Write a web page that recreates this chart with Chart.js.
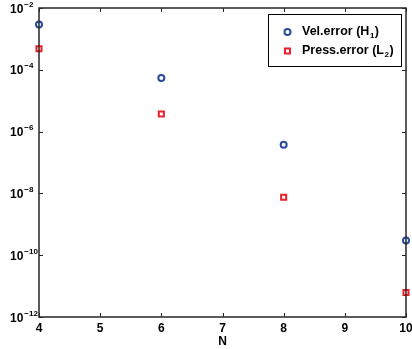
<!DOCTYPE html>
<html>
<head>
<meta charset="utf-8">
<script src="https://cdn.jsdelivr.net/npm/chart.js@4/dist/chart.umd.min.js"></script>
<style>
  html, body { margin: 0; padding: 0; background: #ffffff; }
  #c { display: block; }
</style>
</head>
<body>
<canvas id="c" width="412" height="349"></canvas>
<script>
// ---- data ----
const nValues = [4, 6, 8, 10];
const velError = [2.9e-3, 5.4e-5, 3.75e-7, 3.0e-10];
const pressError = [4.8e-4, 3.7e-6, 7.5e-9, 6.2e-12];
const xTickValues = [4, 5, 6, 7, 8, 9, 10];
const yTickExponents = [-2, -4, -6, -8, -10, -12];
const seriesLabels = ['Vel.error (H', 'Press.error (L'];
const seriesSubscripts = ['1', '2'];
const xAxisTitle = 'N';

const FONT = '"Liberation Sans", Arial, Helvetica, sans-serif';
const AXIS_COLOR = '#262626';
const BLUE = '#2a4aa0';
const RED = '#e8202a';

function toPoints(xs, ys) { return xs.map((x, i) => ({ x: x, y: ys[i] })); }

const matlabAxes = {
  id: 'matlabAxes',
  afterDraw(chart) {
    const ctx = chart.ctx;
    const a = chart.chartArea;
    const xs = chart.scales.x, ys = chart.scales.y;
    ctx.save();
    // box
    ctx.strokeStyle = AXIS_COLOR;
    ctx.lineWidth = 1.5;
    ctx.strokeRect(a.left, a.top, a.right - a.left, a.bottom - a.top);
    // ticks
    ctx.lineWidth = 1;
    const tl = 4;
    ctx.beginPath();
    xTickValues.forEach(v => {
      const px = Math.round(xs.getPixelForValue(v)) + 0.5;
      ctx.moveTo(px, a.bottom); ctx.lineTo(px, a.bottom - tl);
      ctx.moveTo(px, a.top); ctx.lineTo(px, a.top + tl);
    });
    yTickExponents.forEach(e => {
      const py = Math.round(ys.getPixelForValue(Math.pow(10, e))) + 0.5;
      ctx.moveTo(a.left, py); ctx.lineTo(a.left + tl, py);
      ctx.moveTo(a.right, py); ctx.lineTo(a.right - tl, py);
    });
    ctx.stroke();
    // x tick labels
    ctx.fillStyle = '#000';
    ctx.font = 'bold 12px ' + FONT;
    ctx.textAlign = 'center';
    ctx.textBaseline = 'alphabetic';
    xTickValues.forEach(v => {
      ctx.fillText(String(v), xs.getPixelForValue(v), 332);
    });
    // x title
    ctx.fillText(xAxisTitle, (a.left + a.right) / 2, 345);
    // y tick labels 10^e
    yTickExponents.forEach(e => {
      const py = ys.getPixelForValue(Math.pow(10, e));
      const base = Math.max(py + 4.5, 13);
      ctx.font = 'bold 12px ' + FONT;
      ctx.textAlign = 'left';
      ctx.fillText('10', 10, base);
      const w = ctx.measureText('10').width;
      ctx.font = 'bold 8px ' + FONT;
      ctx.fillText('\u2212' + String(-e), 10 + w + 1, base - 6);
    });
    // legend
    const lx = 268, ly = 14, lw = 133, lh = 52;
    ctx.fillStyle = '#fff';
    ctx.fillRect(lx, ly, lw, lh);
    ctx.strokeStyle = '#000';
    ctx.lineWidth = 1;
    ctx.strokeRect(lx + 0.5, ly + 0.5, lw, lh);
    const rows = [32, 51];
    chart.data.datasets.forEach((ds, i) => {
      const y = rows[i];
      ctx.lineWidth = ds.borderWidth;
      ctx.strokeStyle = ds.borderColor;
      ctx.fillStyle = '#fff';
      Chart.helpers.drawPoint(ctx, { pointStyle: ds.pointStyle, radius: ds.pointRadius, borderWidth: ds.borderWidth, rotation: 0 }, 287.5, y);
      ctx.fillStyle = '#000';
      ctx.font = 'bold 12.5px ' + FONT;
      ctx.textAlign = 'left';
      const tx = 302, bl = y + 3;
      ctx.fillText(seriesLabels[i], tx, bl);
      let w = ctx.measureText(seriesLabels[i]).width;
      ctx.font = 'bold 8px ' + FONT;
      ctx.fillText(seriesSubscripts[i], tx + w + 0.5, bl + 3);
      const w2 = ctx.measureText(seriesSubscripts[i]).width;
      ctx.font = 'bold 12.5px ' + FONT;
      ctx.fillText(')', tx + w + w2 + 1, bl);
    });
    ctx.restore();
  }
};

new Chart(document.getElementById('c'), {
  type: 'scatter',
  data: {
    datasets: [
      {
        label: seriesLabels[0] + seriesSubscripts[0] + ')',
        data: toPoints(nValues, velError),
        pointStyle: 'circle',
        pointRadius: 3,
        borderWidth: 2,
        borderColor: BLUE,
        backgroundColor: 'rgba(255,255,255,0)',
        clip: false
      },
      {
        label: seriesLabels[1] + seriesSubscripts[1] + ')',
        data: toPoints(nValues, pressError),
        pointStyle: 'rect',
        pointRadius: 3.6,
        borderWidth: 2,
        borderColor: RED,
        backgroundColor: 'rgba(255,255,255,0)',
        clip: false
      }
    ]
  },
  options: {
    responsive: false,
    animation: false,
    devicePixelRatio: 1,
    layout: { padding: { left: 39, top: 8, right: 4, bottom: 32 } },
    plugins: { legend: { display: false }, tooltip: { enabled: false } },
    scales: {
      x: {
        type: 'linear', min: 4, max: 10,
        ticks: { display: false, stepSize: 1 },
        grid: { display: false, drawTicks: false },
        border: { display: false }
      },
      y: {
        type: 'logarithmic', min: 1e-12, max: 1e-2,
        ticks: { display: false },
        grid: { display: false, drawTicks: false },
        border: { display: false }
      }
    }
  },
  plugins: [matlabAxes]
});
</script>
</body>
</html>
